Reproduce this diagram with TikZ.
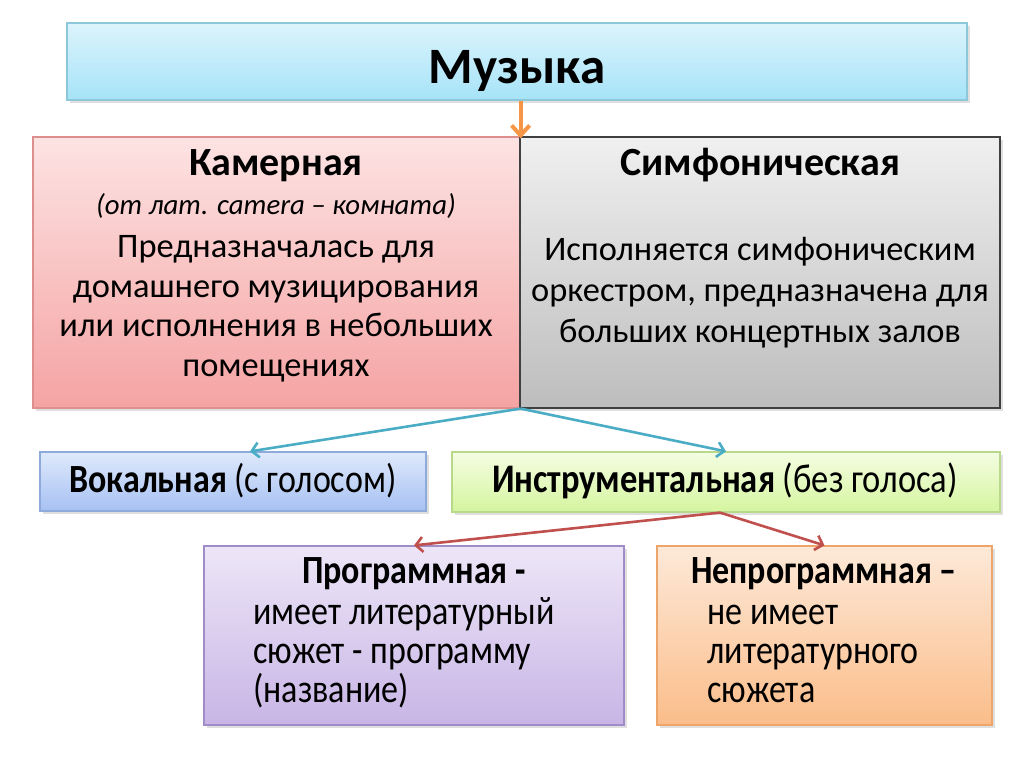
\documentclass[tikz,border=0pt]{standalone}
\usepackage{fontspec}
\setmainfont{Carlito}
\newfontfamily\narrowfont[FakeStretch=0.85]{Carlito}
\usepackage{tikz}
\usetikzlibrary{positioning,shadows,arrows.meta}

\definecolor{muzTop}{HTML}{DCF4FC}
\definecolor{muzBot}{HTML}{A6E3F8}
\definecolor{muzLine}{HTML}{8CC8DA}
\definecolor{kamTop}{HTML}{FDE3E3}
\definecolor{kamBot}{HTML}{F5A3A3}
\definecolor{kamLine}{HTML}{DE8E8C}
\definecolor{simTop}{HTML}{F0F0F0}
\definecolor{simBot}{HTML}{BDBDBD}
\definecolor{simLine}{HTML}{404040}
\definecolor{vokTop}{HTML}{DFE9FB}
\definecolor{vokBot}{HTML}{A6C1F3}
\definecolor{vokLine}{HTML}{8EAADB}
\definecolor{insTop}{HTML}{F4FDE2}
\definecolor{insBot}{HTML}{D5F59F}
\definecolor{insLine}{HTML}{B8D88A}
\definecolor{prgTop}{HTML}{EDE6F7}
\definecolor{prgBot}{HTML}{C8B5E6}
\definecolor{prgLine}{HTML}{A08CC8}
\definecolor{nepTop}{HTML}{FDE9D8}
\definecolor{nepBot}{HTML}{FBBD8A}
\definecolor{nepLine}{HTML}{EDA56A}
\definecolor{arrOrange}{HTML}{F79646}
\definecolor{arrBlue}{HTML}{4BACC6}
\definecolor{arrRed}{HTML}{C0504D}

\tikzset{
  box/.style={draw, rectangle, inner sep=0pt, line width=0.6pt,
    drop shadow={shadow xshift=1.5pt, shadow yshift=-1.5pt, opacity=0.25}},
  txt/.style={inner sep=0pt, align=center, font=\fontsize{17.2}{19.75}\selectfont},
  link/.style={line width=1.3pt, -{Straight Barb[length=3.5pt,width=7.5pt]}},
  biglink/.style={line width=2pt, -{Straight Barb[length=5pt,width=9pt]}},
}

\begin{document}
\begin{tikzpicture}[x=0.5pt,y=-0.5pt]
    \useasboundingbox (0,0) rectangle (1024,767);

    % Boxes
    \node[box, draw=muzLine, top color=muzTop, bottom color=muzBot,
          minimum width=450pt, minimum height=38.5pt] (muz) at (517,61.5) {};
    \node[box, draw=kamLine, top color=kamTop, bottom color=kamBot,
          minimum width=243.5pt, minimum height=135.5pt] (kam) at (276.5,272.5) {};
    \node[box, draw=simLine, top color=simTop, bottom color=simBot,
          minimum width=240pt, minimum height=135.5pt] (sim) at (760,272.5) {};
    \node[box, draw=vokLine, top color=vokTop, bottom color=vokBot,
          minimum width=193pt, minimum height=29.5pt] (vok) at (233,481.5) {};
    \node[box, draw=insLine, top color=insTop, bottom color=insBot,
          minimum width=274pt, minimum height=30pt] (ins) at (726,482) {};
    \node[box, draw=prgLine, top color=prgTop, bottom color=prgBot,
          minimum width=210pt, minimum height=89.5pt] (prg) at (414,635.5) {};
    \node[box, draw=nepLine, top color=nepTop, bottom color=nepBot,
          minimum width=167.5pt, minimum height=89.5pt] (nep) at (824.5,635.5) {};

    % Texts (multi-line nodes sit on the baseline of their last line)
    \node[txt, anchor=base, font=\bfseries\fontsize{25.5}{28}\selectfont] (muzT) at (517,83) {Музыка};
    \node[txt, anchor=base] (kamT) at (276,376)
      {{\bfseries\fontsize{20}{20}\selectfont Камерная}\\[0pt]
       {\itshape\fontsize{14.4}{14}\selectfont (от лат. camera – комната)}\\[1.75pt]
       Предназначалась для\\ домашнего музицирования\\ или исполнения в небольших\\ помещениях};
    \node[txt, anchor=base, font=\bfseries\fontsize{20}{20}\selectfont] (simT) at (760,175) {Симфоническая};
    \node[txt, anchor=base, font=\fontsize{17.2}{20.5}\selectfont] (simB) at (760,342)
      {Исполняется симфоническим\\ оркестром, предназначена для\\ больших концертных залов};
    \node[txt, anchor=base, font=\narrowfont\fontsize{20}{22}\selectfont] (vokT) at (233,492)
      {\textbf{Вокальная} (с голосом)};
    \node[txt, anchor=base, font=\narrowfont\fontsize{20.3}{22}\selectfont] (insT) at (725,492)
      {\textbf{Инструментальная} (без голоса)};
    \node[txt, anchor=base, font=\narrowfont\bfseries\fontsize{20}{21}\selectfont] (prgT) at (414,583) {Программная -};
    \node[txt, anchor=base west, align=left, font=\narrowfont\fontsize{20}{19.5}\selectfont] (prgB) at (253,702)
      {имеет литературный\\ сюжет - программу\\ (название)};
    \node[txt, anchor=base, font=\narrowfont\bfseries\fontsize{20}{21}\selectfont] (nepT) at (824,583) {Непрограммная –};
    \node[txt, anchor=base west, align=left, font=\narrowfont\fontsize{20}{19.5}\selectfont] (nepB) at (707,702)
      {не имеет\\ литературного\\ сюжета};

    % Arrows
    \draw[biglink, arrOrange] (muz.south -| kam.north east) -- ([yshift=-1pt]kam.north east);
    \draw[link, arrBlue] (kam.south east) -- ([xshift=8.5pt]vok.north);
    \draw[link, arrBlue] (kam.south east) -- (ins.north);
    \draw[link, arrRed] ([xshift=-3pt]ins.south) -- (prg.north);
    \draw[link, arrRed] ([xshift=-3pt]ins.south) -- (nep.north);
\end{tikzpicture}
\end{document}
